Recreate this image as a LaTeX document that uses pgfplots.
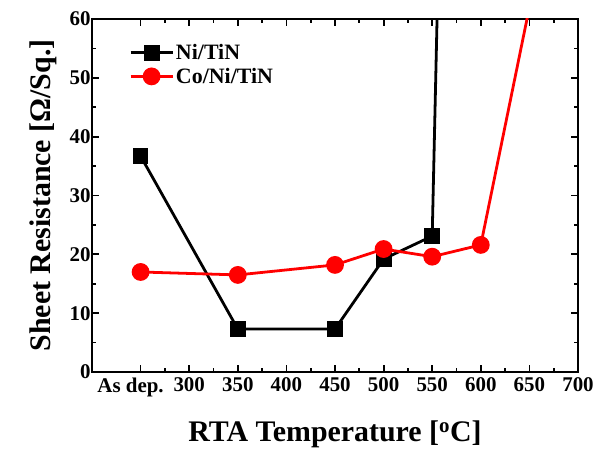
\documentclass[border=0pt]{standalone}
\usepackage{pgfplots}
\pgfplotsset{compat=1.18}
\usepackage{fontspec}
\setmainfont{Liberation Serif}
\begin{document}
\begin{tikzpicture}
\begin{axis}[
  name=ax,
  scale only axis,
  width=486bp, height=353bp,
  xmin=200, xmax=700, ymin=0, ymax=60,
  xtick={250,300,...,700},
  xticklabels={\hspace*{-20bp}As dep.,300,350,400,450,500,550,600,650,700},
  ytick={0,10,...,60},
  minor x tick num=1, minor y tick num=1,
  tick align=inside,
  major tick length=7bp, minor tick length=4bp,
  every tick/.style={black, line width=1.8pt},
  axis line style={line width=2.4pt},
  /pgf/number format/assume math mode=true,
  ticklabel style={font=\fontsize{21}{21}\selectfont\bfseries},
  xticklabel style={yshift=-2bp},
  yticklabel style={xshift=2bp},
  xlabel={RTA Temperature [\textsuperscript{o}C]},
  ylabel={Sheet Resistance [Ω/Sq.]},
  xlabel style={font=\fontsize{30}{30}\selectfont\bfseries,
    at={(axis description cs:0.5,-0.176)}, anchor=center},
  ylabel style={font=\fontsize{30}{30}\selectfont\bfseries,
    at={(axis description cs:-0.101,0.5)}, anchor=center},
  legend style={draw=none, fill=none, at={(0.07,0.94)}, anchor=north west,
    font=\fontsize{22}{22}\selectfont\bfseries, row sep=3bp},
  legend cell align=left,
  legend image code/.code={\draw[mark repeat=2,mark phase=2,#1] plot coordinates {(0bp,0bp)(21bp,0bp)(42bp,0bp)};},
  clip=true,
]
\addplot[black, line width=2.8pt, mark=square*, mark size=6.5bp] coordinates {
  (250,36.7) (350,7.3) (450,7.3) (500,19.2) (550,23.1) (560,97)
};
\addlegendentry{Ni/TiN}
\addplot[red, line width=2.8pt, mark=*, mark size=7.5bp] coordinates {
  (250,17.0) (350,16.5) (450,18.2) (500,20.9) (550,19.6) (600,21.6) (650,62)
};
\addlegendentry{Co/Ni/TiN}
\end{axis}
\pgfresetboundingbox
\path[use as bounding box] ([shift={(-92bp,-79bp)}]ax.south west) rectangle ([shift={(24bp,19bp)}]ax.north east);
\end{tikzpicture}
\end{document}
